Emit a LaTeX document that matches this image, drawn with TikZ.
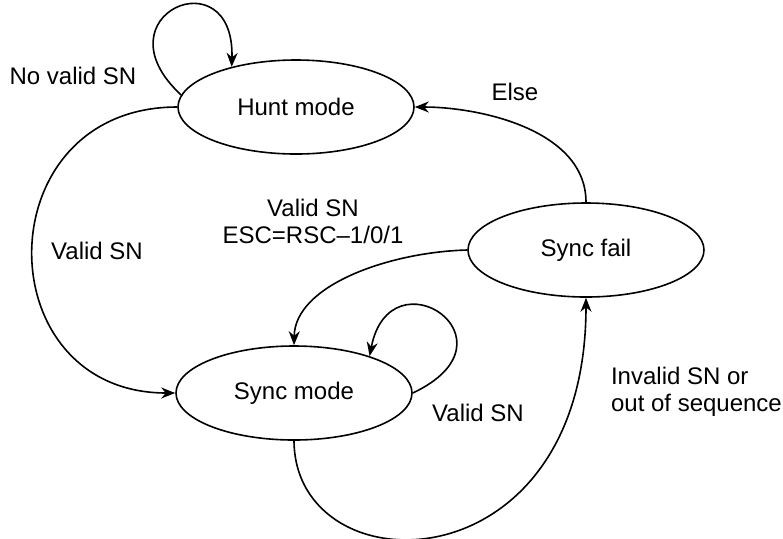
\documentclass[tikz,border=0pt]{standalone}
\usepackage{fontspec}
\setmainfont{Liberation Sans}
\usetikzlibrary{arrows.meta, shapes.geometric}

\begin{document}
\begin{tikzpicture}[
  x=0.5pt, y=-0.5pt,
  every node/.style={font=\fontsize{12}{13.5}\selectfont},
  state/.style={draw, ellipse, line width=0.8pt, inner sep=0pt,
                minimum width=118pt, minimum height=47pt},
  lbl/.style={align=center},
  arr/.style={-{Stealth[length=7pt, width=5.5pt]}, line width=0.8pt}
]
  \useasboundingbox (0,0) rectangle (783,538);

  %% States
  \node[state] (hunt)  at (296,107) {Hunt mode};
  \node[state] (sync)  at (294,393) {Sync mode};
  \node[state] (sfail) at (586,250) {Sync fail};

  %% Transitions
  \draw[arr] (hunt.174)    .. controls (95,15) and (235,-45)   .. (hunt.148);
  \draw[arr] (hunt.west)   .. controls (-15,107) and (-15,393) .. (sync.west);
  \draw[arr] (sfail.north) .. controls (586,130) and (480,107) .. (hunt.east);
  \draw[arr] (sfail.west)  .. controls (390,252) and (295,285) .. (sync.north);
  \draw[arr] (sync.east)   .. controls (525,340) and (390,250) .. (sync.26);
  \draw[arr] (sync.south)  .. controls (295,590) and (586,590) .. (sfail.south);

  %% Labels
  \node[lbl] (lnovalid) at (73,76)   {No valid SN};
  \node[lbl] (lvalid)   at (97,251)  {Valid SN};
  \node[lbl] (lesc)     at (313,221) {Valid SN\\ESC=RSC--1/0/1};
  \node[lbl] (lelse)    at (515,92)  {Else};
  \node[lbl] (lsyncok)  at (478,413) {Valid SN};
  \node[align=left, anchor=west] (linvalid) at (604,392)
    {Invalid SN or\\out of sequence};
\end{tikzpicture}
\end{document}
